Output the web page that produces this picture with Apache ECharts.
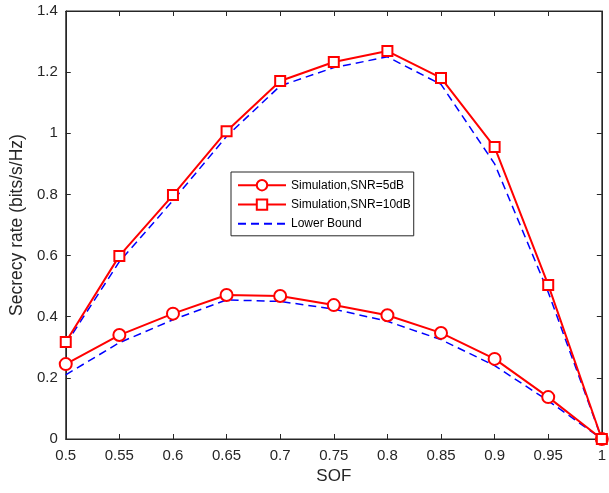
<!DOCTYPE html>
<html><head><meta charset="utf-8">
<script src="https://cdn.jsdelivr.net/npm/echarts@6/dist/echarts.min.js"></script>
<style>html,body{margin:0;padding:0;background:#fff}#c{width:609px;height:493px}</style>
</head><body><div id="c"></div>
<script>
const sof = [0.5,0.55,0.6,0.65,0.7,0.75,0.8,0.85,0.9,0.95,1];
const sim5 = [0.245,0.340,0.410,0.471,0.468,0.438,0.405,0.347,0.262,0.137,0];
const sim10 = [0.317,0.599,0.798,1.007,1.171,1.233,1.269,1.181,0.955,0.504,0];
const lb5 = [0.210,0.315,0.390,0.455,0.450,0.425,0.385,0.325,0.240,0.125,0];
const lb10 = [0.310,0.580,0.780,0.990,1.155,1.215,1.250,1.160,0.900,0.480,0];
const xTicks = {min:0.5,max:1,interval:0.05};
const yTicks = {min:0,max:1.4,interval:0.2};
const names = ['Simulation,SNR=5dB','Simulation,SNR=10dB','Lower Bound'];

const pair = a => sof.map((x,i)=>[x,a[i]]);
const font = 'Liberation Sans, Arial, Helvetica, sans-serif';
const axCol = '#262626';
const chart = echarts.init(document.getElementById('c'));
function mkX(pos, extra){
  return Object.assign({type:'value',position:pos,min:xTicks.min,max:xTicks.max,interval:xTicks.interval,
    axisLine:{show:true,onZero:false,lineStyle:{color:axCol,width:1}},
    axisTick:{show:true,inside:true,length:5,lineStyle:{color:axCol}},
    splitLine:{show:false}}, extra);
}
function mkY(pos, extra){
  return Object.assign({type:'value',position:pos,min:yTicks.min,max:yTicks.max,interval:yTicks.interval,
    axisLine:{show:true,onZero:false,lineStyle:{color:axCol,width:1}},
    axisTick:{show:true,inside:true,length:5,lineStyle:{color:axCol}},
    splitLine:{show:false}}, extra);
}
chart.setOption({
  animation:false,
  backgroundColor:'#fff',
  grid:{left:63,right:4,top:11,bottom:54,containLabel:false,show:true,borderColor:axCol,borderWidth:1,backgroundColor:'transparent'},
  xAxis:[mkX('bottom',{name:'SOF',nameLocation:'middle',nameGap:26,
    nameTextStyle:{fontFamily:font,fontSize:17,color:axCol},
    axisLabel:{fontFamily:font,fontSize:15,color:axCol,margin:9}}),
    mkX('top',{axisLabel:{show:false}})],
  yAxis:[mkY('left',{name:'Secrecy rate (bits/s/Hz)',nameLocation:'middle',nameGap:37,
    nameTextStyle:{fontFamily:font,fontSize:17.5,color:axCol},
    axisLabel:{fontFamily:font,fontSize:15,color:axCol,margin:8}}),
    mkY('right',{axisLabel:{show:false}})],
  legend:{left:231,top:172,orient:'vertical',data:names,itemWidth:48,itemHeight:13,itemGap:7,
    padding:[7,3,6,6],borderColor:'#262626',borderWidth:1,backgroundColor:'#fff',
    textStyle:{fontFamily:font,fontSize:12,color:'#000'}},
  series:[
    {name:names[0],type:'line',data:pair(sim5),symbol:'emptyCircle',symbolSize:12,
      lineStyle:{color:'#ff0000',width:2},itemStyle:{color:'#ff0000',borderWidth:2},z:3},
    {name:names[1],type:'line',data:pair(sim10),symbol:'rect',symbolSize:10,
      lineStyle:{color:'#ff0000',width:2},itemStyle:{color:'#fff',borderColor:'#ff0000',borderWidth:2},z:3},
    {name:names[2],type:'line',data:pair(lb5),symbol:'none',
      lineStyle:{color:'#0000ff',width:1.5,type:[8,5]},itemStyle:{color:'rgba(0,0,0,0)'},z:2},
    {name:names[2],type:'line',data:pair(lb10),symbol:'none',
      lineStyle:{color:'#0000ff',width:1.5,type:[8,5]},itemStyle:{color:'rgba(0,0,0,0)'},z:2},
    {name:'box',type:'line',xAxisIndex:1,yAxisIndex:1,data:[[xTicks.min,yTicks.min]],symbol:'none',
      silent:true,lineStyle:{opacity:0},itemStyle:{opacity:0}}
  ]
});
</script></body></html>
